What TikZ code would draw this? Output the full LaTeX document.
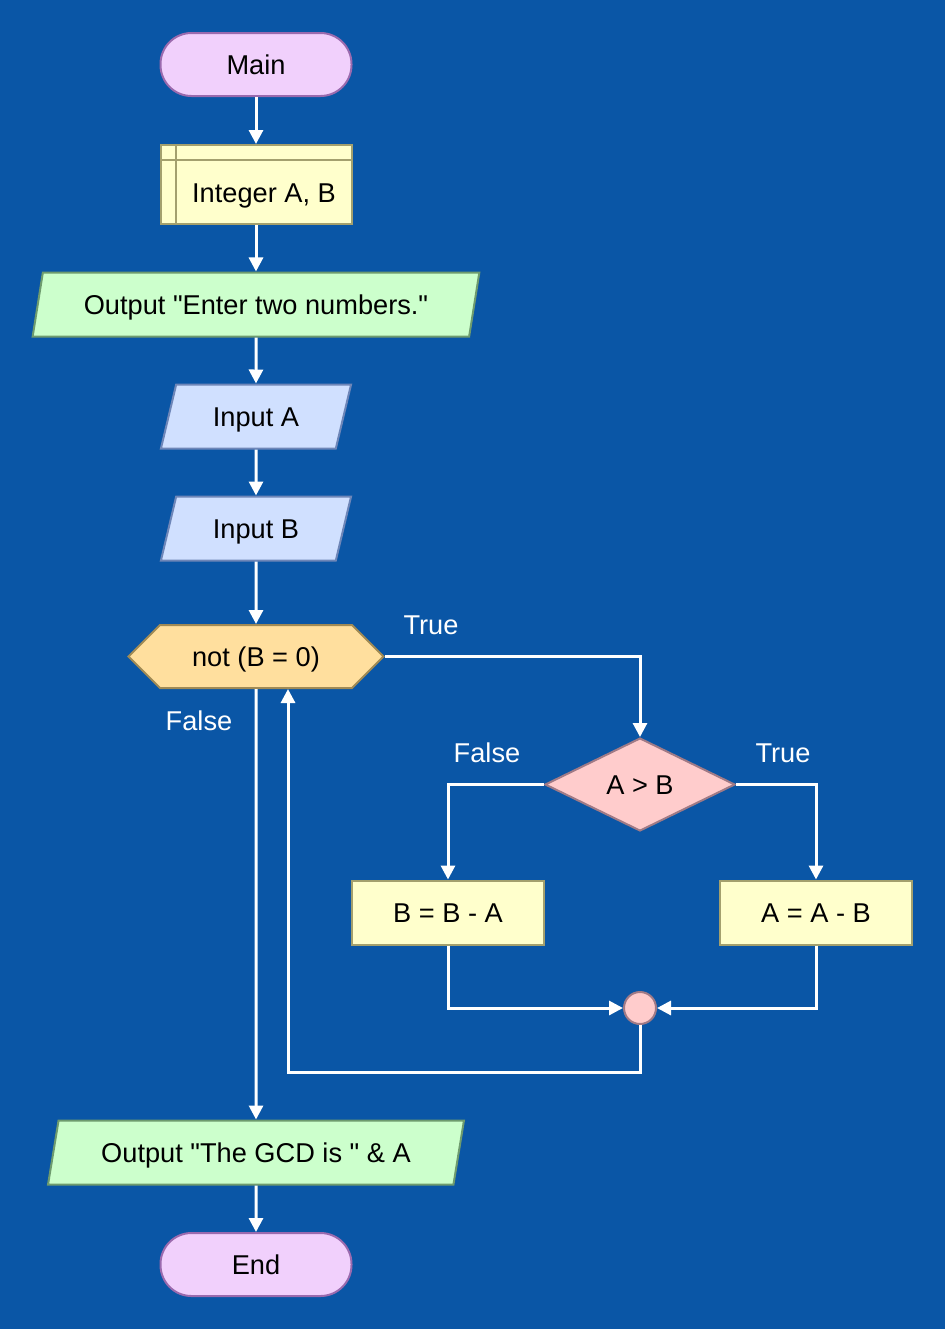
\documentclass[tikz,border=0pt]{standalone}
\usepackage{fontspec}
\setmainfont{Liberation Sans}
\usetikzlibrary{shapes.geometric,shapes.symbols,arrows.meta}
\definecolor{bgblue}{HTML}{0A56A6}
\definecolor{termfill}{HTML}{F1D0FC}
\definecolor{termline}{HTML}{9A6AAE}
\definecolor{boxfill}{HTML}{FFFFCC}
\definecolor{boxline}{HTML}{A3A06E}
\definecolor{outfill}{HTML}{CCFFCC}
\definecolor{outline}{HTML}{6E9B6E}
\definecolor{infill}{HTML}{D0E0FF}
\definecolor{inline}{HTML}{6E86B8}
\definecolor{loopfill}{HTML}{FFDF9E}
\definecolor{loopline}{HTML}{A08A55}
\definecolor{iffill}{HTML}{FFCCCC}
\definecolor{ifline}{HTML}{A07A86}
\tikzset{
  every node/.style={font=\fontsize{13.6}{16}\selectfont, inner sep=0pt, text height=9.7pt, text depth=0pt},
  terminal/.style={draw=termline, fill=termfill, line width=1pt, rectangle, rounded corners=15.5pt, minimum width=95.5pt, minimum height=31.5pt},
  declare/.style={draw=boxline, fill=boxfill, line width=1pt, rectangle, minimum width=95.5pt, minimum height=39.5pt,
    path picture={\draw[boxline, line width=1pt] ([xshift=7.5pt]path picture bounding box.north west) -- ([xshift=7.5pt]path picture bounding box.south west);
      \draw[boxline, line width=1pt] ([yshift=-7.5pt]path picture bounding box.north west) -- ([yshift=-7.5pt]path picture bounding box.north east);}},
  outbox/.style={draw=outline, fill=outfill, line width=1pt, trapezium, trapezium left angle=67, trapezium right angle=113, trapezium stretches=true, minimum height=32pt},
  inbox/.style={draw=inline, fill=infill, line width=1pt, trapezium, trapezium left angle=67, trapezium right angle=113, trapezium stretches=true, minimum width=95.5pt, minimum height=32pt},
  loopbox/.style={draw=loopline, fill=loopfill, line width=1pt, signal, signal to=west and east, signal pointer angle=90, minimum width=127.5pt, minimum height=31.5pt},
  ifbox/.style={draw=ifline, fill=iffill, line width=1pt, diamond, minimum width=95pt, minimum height=46.5pt},
  process/.style={draw=boxline, fill=boxfill, line width=1pt, rectangle, minimum width=96pt, minimum height=32pt},
  joint/.style={draw=ifline, fill=iffill, line width=1pt, circle, minimum size=16pt, text height=0pt},
  flow/.style={draw=white, line width=1.5pt, ->},
  tag/.style={text=white}
}
\begin{document}
\begin{tikzpicture}[x=0.5pt, y=-0.5pt, >={Triangle[width=7pt,length=7pt]}]
  \fill[bgblue] (0,0) rectangle (945,1329);
  \useasboundingbox (0,0) rectangle (945,1329);
  % main column
  \node[terminal] (main) at (256,64.5) {Main};
  \node[declare, label={[shift={(4pt,-4pt)}]center:Integer A, B}] (decl) at (256,184.5) {};
  \node[outbox, minimum width=223.5pt] (ask) at (256,304.5) {Output \textquotedbl Enter two numbers.\textquotedbl};
  \node[inbox] (ina) at (256,416.5) {Input A};
  \node[inbox] (inb) at (256,528.5) {Input B};
  \node[loopbox] (loop) at (256,656.5) {not (B = 0)};
  % loop body
  \node[ifbox] (cmp) at (640,784.5) {A > B};
  \node[process] (bsub) at (448,912.5) {B = B - A};
  \node[process] (asub) at (816,912.5) {A = A - B};
  \node[joint] (join) at (640,1008) {};
  \coordinate (back) at (640,1072);
  % after loop
  \node[outbox, minimum width=208.5pt] (show) at (256,1152.5) {Output \textquotedbl The GCD is \textquotedbl\ \& A};
  \node[terminal] (end) at (256,1264.5) {End};
  % labels
  \node[tag] (ltrue) at (431,625) {True};
  \node[tag] (lfalse) at (199,721) {False};
  \node[tag] (cfalse) at (487,753) {False};
  \node[tag] (ctrue) at (783,753) {True};
  % arrows
  \draw[flow] (main) -- (decl);
  \draw[flow] (decl) -- (ask);
  \draw[flow] (ask) -- (ina);
  \draw[flow] (ina) -- (inb);
  \draw[flow] (inb) -- (loop);
  \draw[flow] (loop.east) -| (cmp.north);
  \draw[flow] (cmp.west) -| (bsub.north);
  \draw[flow] (cmp.east) -| (asub.north);
  \draw[flow] (bsub.south) |- (join.west);
  \draw[flow] (asub.south) |- (join.east);
  \draw[flow] (join.south) -- (back) -| ([xshift=16pt]loop.south);
  \draw[flow] (loop.south) -- (show.north);
  \draw[flow] (show) -- (end);
\end{tikzpicture}
\end{document}
